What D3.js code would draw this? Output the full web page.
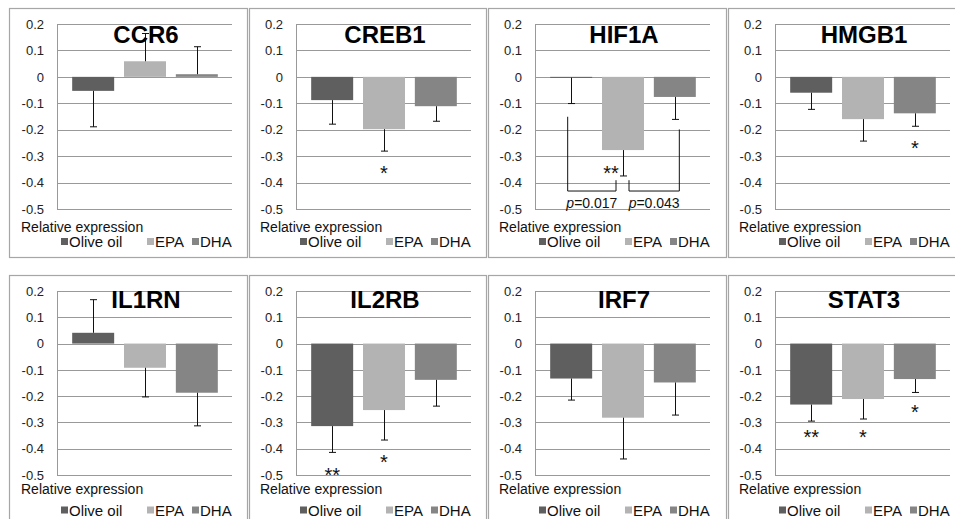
<!DOCTYPE html>
<html>
<head>
<meta charset="utf-8">
<script src="https://cdn.jsdelivr.net/npm/d3@7/dist/d3.min.js"></script>
<style>
  body { margin: 0; background: #fff; }
  svg { display: block; font-family: "Liberation Sans", Arial, sans-serif; }
</style>
</head>
<body>
<svg id="chart" width="955" height="519"></svg>
<script>
// genes, one panel each (read left-to-right, top-to-bottom)
const genes = ['CCR6', 'CREB1', 'HIF1A', 'HMGB1', 'IL1RN', 'IL2RB', 'IRF7', 'STAT3'];
const groups = ['Olive oil', 'EPA', 'DHA'];

// mean relative expression per gene
const oliveOil = [-0.053, -0.088, -0.003, -0.060, 0.041, -0.314, -0.133, -0.232];
const epa      = [ 0.059, -0.198, -0.277, -0.160, -0.092, -0.253, -0.282, -0.211];
const dha      = [ 0.010, -0.111, -0.076, -0.138, -0.187, -0.138, -0.148, -0.135];

// one-sided error bar length per gene
const oliveOilErr = [0.136, 0.091, 0.098, 0.063, 0.126, 0.100, 0.082, 0.063];
const epaErr      = [0.105, 0.083, 0.098, 0.083, 0.111, 0.114, 0.157, 0.076];
const dhaErr      = [0.104, 0.057, 0.085, 0.049, 0.126, 0.100, 0.124, 0.051];

const yTicks = [0.2, 0.1, 0, -0.1, -0.2, -0.3, -0.4, -0.5];

// significance marks
const stars = [
  { gene: 'CREB1', group: 'EPA', label: '*', at: -0.345 },
  { gene: 'HIF1A', group: 'EPA', label: '**', at: -0.345 },
  { gene: 'HMGB1', group: 'DHA', label: '*', at: -0.251 },
  { gene: 'IL2RB', group: 'Olive oil', label: '**', at: -0.482 },
  { gene: 'IL2RB', group: 'EPA', label: '*', at: -0.432 },
  { gene: 'STAT3', group: 'Olive oil', label: '**', at: -0.337 },
  { gene: 'STAT3', group: 'EPA', label: '*', at: -0.337 },
  { gene: 'STAT3', group: 'DHA', label: '*', at: -0.242 }
];

// HIF1A comparison brackets
const brackets = [
  { gene: 'HIF1A', from: 'Olive oil', to: 'EPA', yFrom: -0.151, yTo: -0.391, base: -0.432, p: '0.017' },
  { gene: 'HIF1A', from: 'EPA', to: 'DHA', yFrom: -0.391, yTo: -0.199, base: -0.432, p: '0.043' }
];

const colors = { 'Olive oil': '#5f5f5f', 'EPA': '#b3b3b3', 'DHA': '#858585' };

const rows = genes.map((g, i) => ({
  gene: g,
  values: [
    { group: 'Olive oil', value: oliveOil[i], err: oliveOilErr[i] },
    { group: 'EPA', value: epa[i], err: epaErr[i] },
    { group: 'DHA', value: dha[i], err: dhaErr[i] }
  ]
}));

const svg = d3.select('#chart');

// panel frames
const frameX = [9, 249, 488, 728];
const frameW = [238, 237, 238, 240];
const frameY = [8, 275];
const frameH = [249, 260];

// plot areas
const plotLeft = [57, 296, 535, 775];
const plotW = 175;
const rowTop = [24, 291];
const rowBottom = [209, 475];
const labelDy = [23, 19];
const legendDy = [38, 40.5];
const titleDy = [19, 17];

rows.forEach((d, i) => {
  const col = i % 4, row = Math.floor(i / 4);
  const x0 = plotLeft[col];

  svg.append('rect')
    .attr('x', frameX[col] + 0.5).attr('y', frameY[row] + 0.5)
    .attr('width', frameW[col]).attr('height', frameH[row])
    .attr('fill', 'none').attr('stroke', '#a6a6a6').attr('stroke-width', 1.2);

  const y = d3.scaleLinear().domain([-0.5, 0.2]).range([rowBottom[row], rowTop[row]]);
  const x = d3.scaleBand().domain(groups)
    .range([x0 + 10, x0 + 166]).paddingInner(0.19).paddingOuter(0.1);

  const g = svg.append('g');

  // gridlines
  g.selectAll('line.grid').data(yTicks).join('line')
    .attr('class', 'grid')
    .attr('x1', x0).attr('x2', x0 + plotW)
    .attr('y1', v => Math.round(y(v)) + 0.5).attr('y2', v => Math.round(y(v)) + 0.5)
    .attr('stroke', '#999').attr('stroke-width', 1);
  g.append('line')
    .attr('x1', x0 + 0.5).attr('x2', x0 + 0.5)
    .attr('y1', y(0.2)).attr('y2', y(-0.5))
    .attr('stroke', '#999');

  // y axis labels
  const axis = d3.axisLeft(y).tickValues(yTicks).tickSize(0).tickPadding(13)
    .tickFormat(v => v === 0 ? '0' : v.toFixed(1));
  g.append('g').attr('transform', `translate(${x0},0)`).call(axis)
    .call(s => s.select('.domain').remove())
    .selectAll('text')
    .attr('font-size', 13).attr('fill', '#222')
    .attr('font-family', '"Liberation Sans", Arial, sans-serif');

  // bars
  g.selectAll('rect.bar').data(d.values).join('rect')
    .attr('class', 'bar')
    .attr('x', v => x(v.group))
    .attr('width', x.bandwidth())
    .attr('y', v => y(Math.max(0, v.value)))
    .attr('height', v => Math.max(1, Math.abs(y(v.value) - y(0))))
    .attr('fill', v => colors[v.group]);

  // error bars (one sided, away from zero)
  const eb = g.selectAll('g.err').data(d.values).join('g').attr('class', 'err');
  const cx = v => Math.round(x(v.group) + x.bandwidth() / 2) + 0.5;
  const tip = v => v.value >= 0 ? v.value + v.err : v.value - v.err;
  eb.append('line')
    .attr('x1', cx).attr('x2', cx)
    .attr('y1', v => y(v.value)).attr('y2', v => y(tip(v)))
    .attr('stroke', '#111').attr('stroke-width', 1);
  eb.append('line')
    .attr('x1', v => cx(v) - 3.5).attr('x2', v => cx(v) + 3.5)
    .attr('y1', v => y(tip(v))).attr('y2', v => y(tip(v)))
    .attr('stroke', '#111').attr('stroke-width', 1);

  // title
  g.append('text')
    .attr('x', x0 + 89).attr('y', rowTop[row] + titleDy[row])
    .attr('text-anchor', 'middle')
    .attr('font-size', 24).attr('font-weight', 'bold').attr('fill', '#000')
    .text(d.gene);

  // stars
  g.selectAll('text.star').data(stars.filter(s => s.gene === d.gene)).join('text')
    .attr('class', 'star')
    .attr('x', s => x(s.group) + x.bandwidth() / 2 + (s.gene === 'HIF1A' ? -12 : 0))
    .attr('y', s => y(s.at) + 11.5)
    .attr('text-anchor', 'middle')
    .attr('font-size', 20).attr('fill', '#111')
    .text(s => s.label);

  // brackets
  const bk = brackets.filter(b => b.gene === d.gene);
  bk.forEach((b, k) => {
    const xa = x(b.from) + x.bandwidth() / 2 + (k === 0 ? -3.5 : 6);
    const xb = x(b.to) + x.bandwidth() / 2 + (k === 0 ? -7 : 4.5);
    g.append('path')
      .attr('d', `M${xa},${y(b.yFrom)}V${y(b.base)}H${xb}V${y(b.yTo)}`)
      .attr('fill', 'none').attr('stroke', '#111').attr('stroke-width', 1);
    const t = g.append('text')
      .attr('x', (xa + xb) / 2).attr('y', y(-0.5) - 1)
      .attr('text-anchor', 'middle').attr('font-size', 14).attr('fill', '#111');
    t.append('tspan').attr('font-style', 'italic').text('p');
    t.append('tspan').text('=' + b.p);
  });

  // axis caption
  g.append('text')
    .attr('x', x0 - 36).attr('y', rowBottom[row] + labelDy[row])
    .attr('font-size', 14).attr('fill', '#111')
    .text('Relative expression');

  // legend
  const legX = [4, 90, 135];
  const leg = g.selectAll('g.leg').data(groups).join('g')
    .attr('class', 'leg')
    .attr('transform', (k, j) => `translate(${x0 + legX[j]},${rowBottom[row] + legendDy[row]})`);
  leg.append('rect').attr('x', 0).attr('y', -9).attr('width', 7).attr('height', 7)
    .attr('fill', k => colors[k]);
  leg.append('text').attr('x', 8).attr('y', 0)
    .attr('font-size', 15).attr('fill', '#111')
    .text(k => k);
});
</script>
</body>
</html>
